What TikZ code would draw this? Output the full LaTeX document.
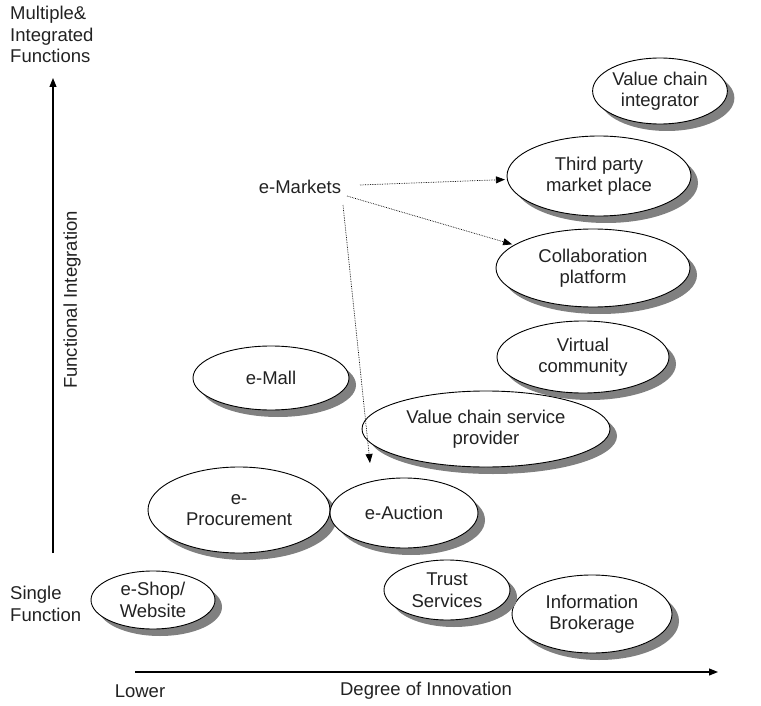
\documentclass[tikz,border=0pt]{standalone}
\usepackage{fontspec}
\setmainfont{Liberation Sans}
\usetikzlibrary{shapes.geometric,shadows,arrows.meta}
\definecolor{shadowgray}{HTML}{808080}
\definecolor{inkgray}{HTML}{222222}
\begin{document}
\begin{tikzpicture}[x=1pt,y=-1pt,
  font=\fontsize{18.5}{21.5}\selectfont,
  every node/.style={text=inkgray},
  bubble/.style={ellipse, draw=black, line width=0.9pt, fill=white,
    inner sep=0pt, align=center,
    drop shadow={shadow xshift=7pt, shadow yshift=-7pt, fill=shadowgray, opacity=1}},
  label/.style={inner sep=0pt, align=left},
  axis/.style={line width=1.1pt, -{Triangle[length=9pt,width=7pt]}},
  dotarrow/.style={densely dotted, line width=0.7pt, -{Triangle[length=9pt,width=7pt]}}
]
\useasboundingbox (0,0) rectangle (761,706);

% bubbles, back to front
\node[bubble, minimum width=124pt, minimum height=66pt] (vci) at (660,91) {Value chain\\integrator};
\node[bubble, minimum width=184pt, minimum height=80pt] (tpm) at (599,176) {Third party\\market place};
\node[bubble, minimum width=194pt, minimum height=78pt] (collab) at (593,268) {Collaboration\\platform};
\node[bubble, minimum width=172pt, minimum height=72pt] (vcomm) at (583,357) {Virtual\\community};
\node[bubble, minimum width=156pt, minimum height=64pt] (emall) at (271,378) {e-Mall};
\node[bubble, minimum width=248pt, minimum height=76pt] (vcsp) at (486,429) {Value chain service\\provider};
\node[bubble, minimum width=182pt, minimum height=86pt] (eproc) at (239,510) {e-\\Procurement};
\node[bubble, minimum width=148pt, minimum height=70pt] (eauc) at (404,513) {e-Auction};
\node[bubble, minimum width=124pt, minimum height=58pt] (eshop) at (153,600) {e-Shop/\\Website};
\node[bubble, minimum width=160pt, minimum height=78pt] (info) at (592,614) {Information\\Brokerage};
\node[bubble, minimum width=126pt, minimum height=60pt] (trust) at (447,590) {Trust\\Services};

% axes
\coordinate (ybase) at (53,553);
\coordinate (ytop) at (53,78);
\coordinate (xbase) at (135,672);
\coordinate (xend) at (718,672);
\draw[axis] (ybase) -- (ytop);
\draw[axis] (xbase) -- (xend);

% axis texts
\node[label, anchor=north west] (multi) at (10,6) {Multiple\&\\Integrated\\Functions};
\node[label, anchor=west] (single) at (10,604) {Single\\Function};
\node[label] (lower) at (140,691) {Lower};
\node[label] (innov) at (426,691) {Degree of Innovation};
\node[label, rotate=90] (funcint) at (72,300) {Functional Integration};

% e-Markets and its links
\node[label] (emk) at (300,187) {e-Markets};
\coordinate (emkA) at (360,185);
\coordinate (emkB) at (347,196);
\coordinate (emkC) at (343,205);
\coordinate (auctip) at (370,463);
\draw[dotarrow, shorten >=2pt] (emkA) -- (tpm);
\draw[dotarrow, shorten >=2pt] (emkB) -- (collab);
\draw[dotarrow] (emkC) -- (auctip);
\end{tikzpicture}
\end{document}
